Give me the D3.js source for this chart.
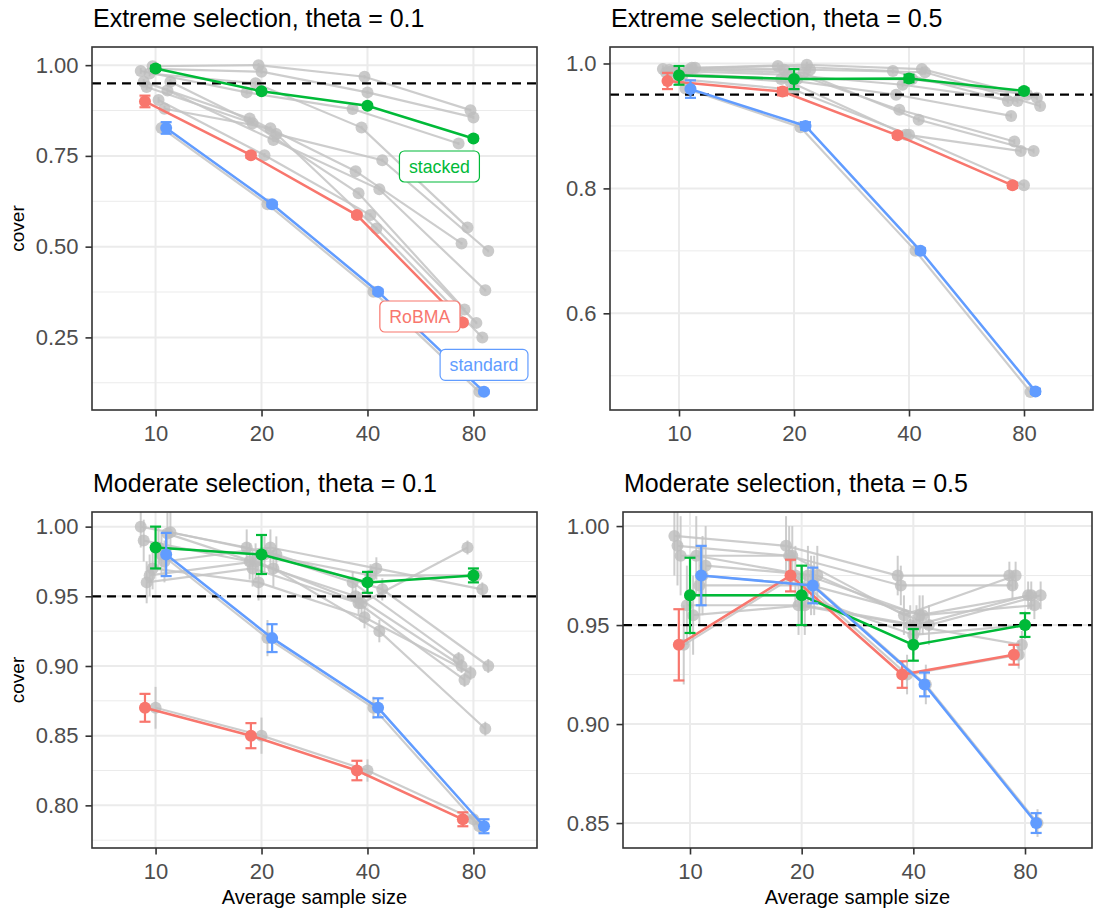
<!DOCTYPE html>
<html>
<head>
<meta charset="utf-8">
<script src="https://cdn.jsdelivr.net/npm/d3@7"></script>
<style>
  body { margin: 0; background: #fff; }
  svg { display: block; }
  text { font-family: "Liberation Sans", Arial, Helvetica, sans-serif; }
</style>
</head>
<body>
<svg id="chart" width="1095" height="912"></svg>
<script>
// ---- data -------------------------------------------------------------
const sampleSizes = ["10", "20", "40", "80"];
const highlightMethods = ["RoBMA", "stacked", "standard"];
const highlightColors = ["#F8766D", "#00BA38", "#619CFF"];
const otherMethods = ["m01", "m02", "m03", "m04", "m05", "m06", "m07", "m08", "m09", "m10", "m11"];
const panelTitles = [
  "Extreme selection, theta = 0.1",
  "Extreme selection, theta = 0.5",
  "Moderate selection, theta = 0.1",
  "Moderate selection, theta = 0.5"
];
const nominalCover = 0.95;

// y tick labels per panel
const ticksExtreme01 = ["0.25", "0.50", "0.75", "1.00"];
const ticksExtreme05 = ["0.6", "0.8", "1.0"];
const ticksModerate01 = ["0.80", "0.85", "0.90", "0.95", "1.00"];
const ticksModerate05 = ["0.85", "0.90", "0.95", "1.00"];

// highlighted methods: rows follow highlightMethods, columns follow sampleSizes
const extreme01Cover = [
  [0.900, 0.752, 0.587, 0.291],
  [0.991, 0.928, 0.888, 0.798],
  [0.827, 0.617, 0.376, 0.100]
];
const extreme01Err = [
  [0.016, 0.007, 0.006, 0.005],
  [0.007, 0.005, 0.005, 0.005],
  [0.016, 0.006, 0.006, 0.004]
];
const extreme05Cover = [
  [0.972, 0.955, 0.885, 0.805],
  [0.981, 0.975, 0.976, 0.956],
  [0.959, 0.900, 0.700, 0.475]
];
const extreme05Err = [
  [0.013, 0.006, 0.004, 0.004],
  [0.015, 0.016, 0.006, 0.004],
  [0.014, 0.006, 0.004, 0.004]
];
const moderate01Cover = [
  [0.870, 0.850, 0.825, 0.790],
  [0.985, 0.980, 0.960, 0.965],
  [0.980, 0.920, 0.870, 0.785]
];
const moderate01Err = [
  [0.010, 0.009, 0.007, 0.005],
  [0.015, 0.014, 0.0075, 0.005],
  [0.0155, 0.010, 0.0068, 0.005]
];
const moderate05Cover = [
  [0.940, 0.975, 0.925, 0.935],
  [0.965, 0.965, 0.940, 0.950],
  [0.975, 0.970, 0.920, 0.850]
];
const moderate05Err = [
  [0.018, 0.008, 0.0067, 0.005],
  [0.019, 0.015, 0.008, 0.006],
  [0.015, 0.009, 0.006, 0.005]
];

// remaining methods (drawn in grey), one row per entry of otherMethods
const extreme01Other = [
  [0.984, 0.925, 0.879, 0.784],
  [0.954, 0.853, 0.708, 0.509],
  [0.940, 0.840, 0.647, 0.327],
  [0.977, 0.950, 0.828, 0.553],
  [0.997, 1.000, 0.968, 0.876],
  [0.990, 0.982, 0.925, 0.856],
  [0.904, 0.752, 0.587, 0.290],
  [0.827, 0.617, 0.376, 0.100],
  [0.880, 0.826, 0.550, 0.250],
  [0.930, 0.794, 0.658, 0.380],
  [0.954, 0.810, 0.738, 0.488]
];
const extreme05Other = [
  [0.991, 0.996, 0.988, 0.940],
  [0.985, 0.975, 0.950, 0.916],
  [0.990, 0.990, 0.926, 0.875],
  [0.988, 0.982, 0.966, 0.940],
  [0.985, 0.970, 0.886, 0.860],
  [0.975, 0.958, 0.886, 0.805],
  [0.980, 0.975, 0.975, 0.950],
  [0.960, 0.898, 0.700, 0.474],
  [0.990, 0.985, 0.910, 0.860],
  [0.993, 0.998, 0.991, 0.945],
  [0.993, 0.990, 0.986, 0.932]
];
const moderate01Other = [
  [1.000, 0.985, 0.960, 0.905],
  [0.990, 0.975, 0.950, 0.900],
  [0.960, 0.970, 0.945, 0.890],
  [0.965, 0.975, 0.945, 0.985],
  [0.970, 0.960, 0.935, 0.895],
  [0.870, 0.850, 0.825, 0.790],
  [0.985, 0.980, 0.965, 0.965],
  [0.980, 0.920, 0.870, 0.785],
  [0.975, 0.985, 0.970, 0.955],
  [0.995, 0.970, 0.925, 0.855],
  [0.996, 0.980, 0.955, 0.900]
];
const moderate05Other = [
  [0.995, 0.990, 0.975, 0.975],
  [0.990, 0.985, 0.970, 0.970],
  [0.985, 0.985, 0.955, 0.975],
  [0.940, 0.975, 0.925, 0.935],
  [0.960, 0.960, 0.950, 0.940],
  [0.965, 0.965, 0.945, 0.950],
  [0.955, 0.960, 0.950, 0.965],
  [0.985, 0.975, 0.955, 0.965],
  [0.970, 0.970, 0.955, 0.960],
  [0.975, 0.970, 0.920, 0.850],
  [0.980, 0.975, 0.950, 0.965]
];
// typical interval half-width of the grey methods at each sample size
const extreme01OtherErr = [0.008, 0.006, 0.005, 0.004];
const extreme05OtherErr = [0.006, 0.005, 0.004, 0.004];
const moderate01OtherErr = [0.015, 0.013, 0.008, 0.005];
const moderate05OtherErr = [0.020, 0.015, 0.010, 0.007];

// ---- layout -------------------------------------------------------------
const panels = [
  { title: panelTitles[0], cover: extreme01Cover, err: extreme01Err, other: extreme01Other, otherErr: extreme01OtherErr,
    ticks: ticksExtreme01, box: { left: 92, right: 537, top: 47, bottom: 410 }, domain: [0.05, 1.05],
    yTitle: true, xTitle: false, labels: true },
  { title: panelTitles[1], cover: extreme05Cover, err: extreme05Err, other: extreme05Other, otherErr: extreme05OtherErr,
    ticks: ticksExtreme05, box: { left: 610, right: 1093, top: 47, bottom: 410 }, domain: [0.4452, 1.0264],
    yTitle: false, xTitle: false, labels: false },
  { title: panelTitles[2], cover: moderate01Cover, err: moderate01Err, other: moderate01Other, otherErr: moderate01OtherErr,
    ticks: ticksModerate01, box: { left: 92, right: 537, top: 512, bottom: 848 }, domain: [0.7694, 1.0105],
    yTitle: true, xTitle: true, labels: false },
  { title: panelTitles[3], cover: moderate05Cover, err: moderate05Err, other: moderate05Other, otherErr: moderate05OtherErr,
    ticks: ticksModerate05, box: { left: 623, right: 1092, top: 512, bottom: 848 }, domain: [0.8374, 1.0071],
    yTitle: false, xTitle: true, labels: false }
];

const GRID = "#EBEBEB", BORDER = "#333333", TICKTXT = "#4D4D4D", GREY = "#C4C4C4";
const svg = d3.select("#chart");

// dodge offsets (in category units) within each sample-size slot
const dodgeHighlight = d3.scalePoint().domain(highlightMethods).range([-0.1, 0.1]);
const dodgeOther = d3.scalePoint().domain(otherMethods).range([-0.14, 0.14]);

// pixel nudges for the method labels, relative to the last point of each line
const labelNudge = { RoBMA: [-43, -6], stacked: [-34, 28], standard: [0, -27] };

panels.forEach(p => {
  const b = p.box;
  const g = svg.append("g");
  const x = d3.scaleLinear().domain([-0.6, sampleSizes.length - 0.4]).range([b.left, b.right]);
  const y = d3.scaleLinear().domain(p.domain).range([b.bottom, b.top]);
  const tickVals = p.ticks.map(Number);
  const step = tickVals[1] - tickVals[0];
  const minor = [];
  for (let i = -1; i < tickVals.length; i++) {
    const v = tickVals[0] + (i + 0.5) * step;
    if (v > p.domain[0] && v < p.domain[1]) minor.push(v);
  }

  const clipId = "clip" + b.left + "_" + b.top;
  svg.append("clipPath").attr("id", clipId)
    .append("rect").attr("x", b.left).attr("y", b.top)
    .attr("width", b.right - b.left).attr("height", b.bottom - b.top);

  // grid
  g.selectAll(".minor").data(minor).join("line")
    .attr("x1", b.left).attr("x2", b.right).attr("y1", d => y(d)).attr("y2", d => y(d))
    .attr("stroke", GRID).attr("stroke-width", 1);
  g.selectAll(".majorY").data(tickVals).join("line")
    .attr("x1", b.left).attr("x2", b.right).attr("y1", d => y(d)).attr("y2", d => y(d))
    .attr("stroke", GRID).attr("stroke-width", 2);
  g.selectAll(".majorX").data(sampleSizes).join("line")
    .attr("x1", (d, i) => x(i)).attr("x2", (d, i) => x(i)).attr("y1", b.top).attr("y2", b.bottom)
    .attr("stroke", GRID).attr("stroke-width", 2);

  const plot = g.append("g").attr("clip-path", `url(#${clipId})`);
  const line = d3.line().x(d => x(d.i + d.off)).y(d => y(d.v));

  // grey methods
  const otherSeries = p.other.map((vals, k) => vals.map((v, i) => ({
    v, i, off: dodgeOther(otherMethods[k]), e: p.otherErr[i]
  })));
  plot.selectAll(".oline").data(otherSeries).join("path")
    .attr("d", line).attr("fill", "none").attr("stroke", GREY).attr("stroke-width", 2.2)
    .attr("stroke-opacity", 0.85);
  plot.selectAll(".oerr").data(otherSeries.flat()).join("line")
    .attr("x1", d => x(d.i + d.off)).attr("x2", d => x(d.i + d.off))
    .attr("y1", d => y(d.v - d.e)).attr("y2", d => y(d.v + d.e))
    .attr("stroke", GREY).attr("stroke-width", 2).attr("stroke-opacity", 0.85);
  plot.selectAll(".opt").data(otherSeries.flat()).join("circle")
    .attr("cx", d => x(d.i + d.off)).attr("cy", d => y(d.v)).attr("r", 6)
    .attr("fill", "#BDBDBD").attr("fill-opacity", 0.8);

  // nominal coverage
  plot.append("line")
    .attr("x1", b.left).attr("x2", b.right).attr("y1", y(nominalCover)).attr("y2", y(nominalCover))
    .attr("stroke", "#000").attr("stroke-width", 2.2).attr("stroke-dasharray", "9,6");

  // highlighted methods
  highlightMethods.forEach((m, k) => {
    const col = highlightColors[k];
    const pts = p.cover[k].map((v, i) => ({ v, i, off: dodgeHighlight(m), e: p.err[k][i] }));
    const hg = plot.append("g");
    hg.append("path").datum(pts).attr("d", line).attr("fill", "none")
      .attr("stroke", col).attr("stroke-width", 2.5);
    const eb = hg.selectAll(".eb").data(pts).join("g");
    eb.append("line")
      .attr("x1", d => x(d.i + d.off)).attr("x2", d => x(d.i + d.off))
      .attr("y1", d => y(d.v - d.e)).attr("y2", d => y(d.v + d.e))
      .attr("stroke", col).attr("stroke-width", 2.2);
    [-1, 1].forEach(s => {
      eb.append("line")
        .attr("x1", d => x(d.i + d.off) - 5.5).attr("x2", d => x(d.i + d.off) + 5.5)
        .attr("y1", d => y(d.v + s * d.e)).attr("y2", d => y(d.v + s * d.e))
        .attr("stroke", col).attr("stroke-width", 2.2);
    });
    hg.selectAll(".pt").data(pts).join("circle")
      .attr("cx", d => x(d.i + d.off)).attr("cy", d => y(d.v)).attr("r", 6).attr("fill", col);
  });

  // method labels
  if (p.labels) {
    highlightMethods.forEach((m, k) => {
      const last = p.cover[k].length - 1;
      const cx = x(last + dodgeHighlight(m)) + labelNudge[m][0];
      const cy = y(p.cover[k][last]) + labelNudge[m][1];
      const lg = g.append("g");
      const t = lg.append("text").attr("x", cx).attr("y", cy).attr("dy", "0.35em")
        .attr("text-anchor", "middle").attr("font-size", 17.7).attr("fill", highlightColors[k]).text(m);
      const bb = t.node().getBBox();
      lg.insert("rect", "text")
        .attr("x", bb.x - 9.5).attr("y", cy - 15.5).attr("width", bb.width + 19).attr("height", 31)
        .attr("rx", 5).attr("fill", "#fff").attr("stroke", highlightColors[k]).attr("stroke-width", 1.2);
    });
  }

  // panel border
  g.append("rect").attr("x", b.left).attr("y", b.top)
    .attr("width", b.right - b.left).attr("height", b.bottom - b.top)
    .attr("fill", "none").attr("stroke", BORDER).attr("stroke-width", 1.6);

  // axes
  const yAxis = d3.axisLeft(y).tickValues(tickVals).tickFormat((d, i) => p.ticks[i]).tickSize(6.5).tickPadding(7);
  const ya = g.append("g").attr("transform", `translate(${b.left},0)`).call(yAxis);
  const xAxis = d3.axisBottom(x).tickValues(d3.range(sampleSizes.length)).tickFormat(i => sampleSizes[i])
    .tickSize(6.5).tickPadding(9);
  const xa = g.append("g").attr("transform", `translate(0,${b.bottom})`).call(xAxis);
  [ya, xa].forEach(a => {
    a.select(".domain").remove();
    a.selectAll(".tick line").attr("stroke", BORDER).attr("stroke-width", 1.6);
    a.selectAll(".tick text").attr("fill", TICKTXT).attr("font-size", 22)
      .attr("font-family", '"Liberation Sans", Arial, sans-serif');
  });

  // titles
  g.append("text").attr("x", b.left + 1).attr("y", b.top - 20)
    .attr("font-size", 25).attr("fill", "#000").text(p.title);
  if (p.yTitle) {
    g.append("text").attr("transform", `translate(24,${(b.top + b.bottom) / 2}) rotate(-90)`)
      .attr("text-anchor", "middle").attr("font-size", 19).attr("fill", "#000").text("cover");
  }
  if (p.xTitle) {
    g.append("text").attr("x", (b.left + b.right) / 2).attr("y", 904)
      .attr("text-anchor", "middle").attr("font-size", 20).attr("fill", "#000").text("Average sample size");
  }
});
</script>
</body>
</html>
